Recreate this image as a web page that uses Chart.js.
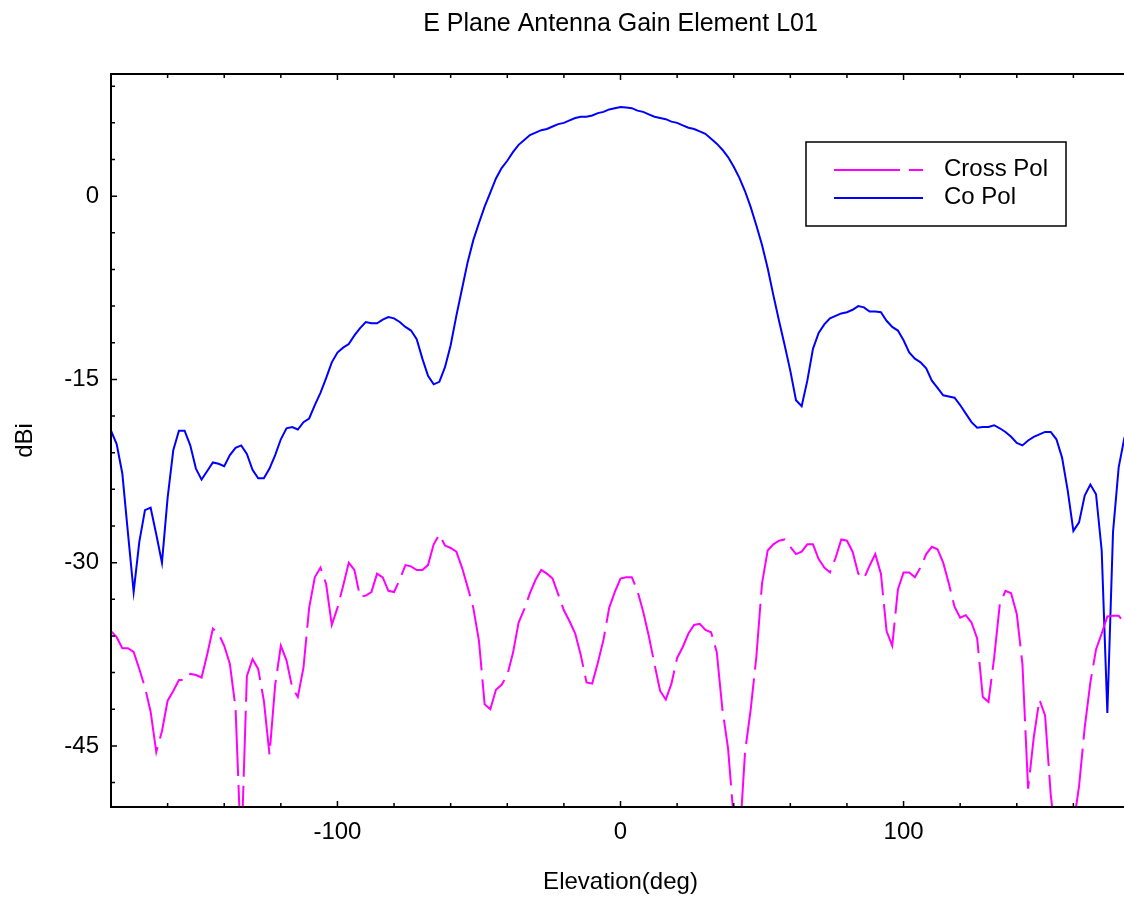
<!DOCTYPE html>
<html>
<head>
<meta charset="utf-8">
<title>E Plane Antenna Gain Element L01</title>
<script src="https://cdn.jsdelivr.net/npm/chart.js@4.4.0/dist/chart.umd.min.js"></script>
<style>
  html, body { margin: 0; padding: 0; background: #fff; overflow: hidden; }
  #wrap { width: 1124px; height: 897px; overflow: hidden; }
  #gain { display: block; }
</style>
</head>
<body>
<div id="wrap"><canvas id="gain" width="1130" height="897"></canvas></div>
<script>
// Elevation cut, sampled every 2 degrees
const ELEVATION = [
  -180, -178, -176, -174, -172, -170, -168, -166, -164, -162,
  -160, -158, -156, -154, -152, -150, -148, -146, -144, -142,
  -140, -138, -136, -134, -132, -130, -128, -126, -124, -122,
  -120, -118, -116, -114, -112, -110, -108, -106, -104, -102,
  -100, -98, -96, -94, -92, -90, -88, -86, -84, -82,
  -80, -78, -76, -74, -72, -70, -68, -66, -64, -62,
  -60, -58, -56, -54, -52, -50, -48, -46, -44, -42,
  -40, -38, -36, -34, -32, -30, -28, -26, -24, -22,
  -20, -18, -16, -14, -12, -10, -8, -6, -4, -2,
  0, 2, 4, 6, 8, 10, 12, 14, 16, 18,
  20, 22, 24, 26, 28, 30, 32, 34, 36, 38,
  40, 42, 44, 46, 48, 50, 52, 54, 56, 58,
  60, 62, 64, 66, 68, 70, 72, 74, 76, 78,
  80, 82, 84, 86, 88, 90, 92, 94, 96, 98,
  100, 102, 104, 106, 108, 110, 112, 114, 116, 118,
  120, 122, 124, 126, 128, 130, 132, 134, 136, 138,
  140, 142, 144, 146, 148, 150, 152, 154, 156, 158,
  160, 162, 164, 166, 168, 170, 172, 174, 176, 178,
  180
];

// Co-polarised gain (dBi)
const CO_POL = [
  -19.2, -20.3, -22.7, -27.6, -32.4, -28.3, -25.7, -25.5, -27.7, -30.0,
  -24.7, -20.8, -19.2, -19.2, -20.4, -22.3, -23.2, -22.5, -21.8, -21.9,
  -22.1, -21.2, -20.6, -20.4, -21.1, -22.4, -23.1, -23.1, -22.3, -21.2,
  -19.9, -19.0, -18.9, -19.1, -18.5, -18.2, -17.1, -16.1, -14.9, -13.6,
  -12.8, -12.4, -12.1, -11.4, -10.8, -10.3, -10.4, -10.4, -10.1, -9.9,
  -10.0, -10.3, -10.7, -11.0, -11.7, -13.3, -14.7, -15.4, -15.2, -14.0,
  -12.2, -9.8, -7.6, -5.4, -3.6, -2.2, -0.85, 0.3, 1.45, 2.3,
  2.9, 3.6, 4.2, 4.6, 5.0, 5.2, 5.4, 5.5, 5.7, 5.9,
  6.0, 6.2, 6.4, 6.5, 6.5, 6.6, 6.8, 6.9, 7.1, 7.2,
  7.3, 7.25, 7.2, 7.0, 6.9, 6.7, 6.5, 6.4, 6.3, 6.1,
  6.0, 5.8, 5.6, 5.5, 5.3, 5.1, 4.7, 4.3, 3.8, 3.2,
  2.4, 1.5, 0.4, -0.9, -2.4, -4.0, -5.9, -8.1, -10.2, -12.2,
  -14.3, -16.7, -17.2, -15.1, -12.5, -11.2, -10.5, -10.0, -9.8, -9.6,
  -9.5, -9.3, -9.0, -9.1, -9.45, -9.45, -9.5, -10.2, -10.7, -11.0,
  -11.8, -12.8, -13.3, -13.6, -14.1, -15.1, -15.7, -16.3, -16.4, -16.5,
  -17.1, -17.8, -18.5, -18.95, -18.9, -18.9, -18.75, -19.0, -19.3, -19.7,
  -20.2, -20.4, -20.0, -19.7, -19.5, -19.3, -19.3, -19.9, -21.4, -24.1,
  -27.4, -26.7, -24.5, -23.6, -24.4, -29.0, -42.3, -27.5, -22.2, -19.8,
  -18.8
];

// Cross-polarised gain (dBi)
const CROSS_POL = [
  -35.6, -36.1, -37.0, -37.0, -37.3, -38.7, -40.2, -42.2, -45.5, -43.8,
  -41.3, -40.5, -39.6, -39.6, -39.1, -39.2, -39.4, -37.5, -35.4, -35.8,
  -36.8, -38.3, -41.9, -54.0, -39.3, -37.9, -38.7, -41.3, -45.7, -40.0,
  -36.8, -38.0, -40.2, -41.0, -38.6, -33.7, -31.2, -30.4, -31.75, -35.1,
  -33.7, -31.9, -30.0, -30.6, -32.8, -32.7, -32.4, -30.9, -31.2, -32.3,
  -32.4, -31.4, -30.2, -30.3, -30.6, -30.6, -30.2, -28.5, -27.7, -28.6,
  -28.8, -29.1, -30.4, -32.0, -33.7, -36.4, -41.6, -42.0, -40.4, -40.0,
  -39.2, -37.4, -34.9, -33.8, -32.5, -31.4, -30.6, -30.9, -31.3, -32.6,
  -33.9, -34.8, -35.8, -37.6, -39.8, -39.9, -38.2, -36.3, -33.7, -32.4,
  -31.3, -31.2, -31.2, -32.3, -34.0, -36.0, -38.3, -40.5, -41.2, -39.9,
  -37.8, -36.9, -35.8, -35.1, -35.0, -35.5, -35.7, -37.3, -42.0, -45.2,
  -51.0, -53.0, -45.5, -42.0, -37.7, -31.7, -29.0, -28.5, -28.2, -28.1,
  -28.7, -29.3, -29.1, -28.5, -28.5, -29.7, -30.4, -30.8, -29.6, -28.1,
  -28.2, -29.1, -30.9, -31.3, -30.25, -29.3, -30.9, -35.6, -36.8, -32.2,
  -30.8, -30.8, -31.2, -30.4, -29.3, -28.7, -28.9, -30.0, -31.7, -33.6,
  -34.5, -34.3, -34.9, -36.2, -41.0, -41.4, -37.8, -33.4, -32.3, -32.5,
  -34.2, -38.3, -48.5, -44.3, -41.2, -42.5, -49.0, -53.0, -55.0, -54.0,
  -51.5, -48.3, -43.5, -39.8, -37.1, -35.8, -34.4, -34.35, -34.35, -34.9,
  -35.3
];

// Axis ticks: marks every 20 deg / 3 dB, numbers only on the major ones
const X_TICKS = [-160, -140, -120, -100, -80, -60, -40, -20, 0, 20, 40, 60, 80, 100, 120, 140, 160];
const X_LABELS = [-100, 0, 100];
const Y_TICKS = [-48, -45, -42, -39, -36, -33, -30, -27, -24, -21, -18, -15, -12, -9, -6, -3, 0, 3, 6, 9];
const Y_LABELS = [-45, -30, -15, 0];

const FONT = "'Liberation Sans', Arial, Helvetica, sans-serif";
Chart.defaults.font.family = FONT;
Chart.defaults.font.size = 24;
Chart.defaults.color = '#000';

const toPoints = values => ELEVATION.map((x, i) => ({ x, y: values[i] }));

// box frame plus inward tick marks
const axesFrame = {
  id: 'axesFrame',
  afterDraw(chart) {
    const { ctx, chartArea: a, scales: { x, y } } = chart;
    ctx.save();
    ctx.strokeStyle = '#000';
    ctx.lineWidth = 2;
    ctx.strokeRect(a.left, a.top, a.right - a.left, a.bottom - a.top);
    ctx.lineWidth = 1.5;
    ctx.beginPath();
    x.ticks.forEach(t => {
      const px = x.getPixelForValue(t.value);
      const len = X_LABELS.includes(t.value) ? 6 : 4;
      ctx.moveTo(px, a.bottom);
      ctx.lineTo(px, a.bottom - len);
      ctx.moveTo(px, a.top);
      ctx.lineTo(px, a.top + len);
    });
    y.ticks.forEach(t => {
      const py = y.getPixelForValue(t.value);
      const len = Y_LABELS.includes(t.value) ? 6 : 4;
      ctx.moveTo(a.left, py);
      ctx.lineTo(a.left + len, py);
    });
    ctx.stroke();
    ctx.restore();
  }
};

// framed legend with line samples
const keyBox = {
  id: 'keyBox',
  afterDraw(chart, args, opts) {
    const { ctx } = chart;
    const { left, top, width, height } = opts;
    ctx.save();
    ctx.fillStyle = '#fff';
    ctx.fillRect(left, top, width, height);
    ctx.strokeStyle = '#000';
    ctx.lineWidth = 1.5;
    ctx.strokeRect(left, top, width, height);
    ctx.font = '24px ' + FONT;
    ctx.textBaseline = 'middle';
    ctx.textAlign = 'left';
    chart.data.datasets.forEach((ds, i) => {
      const ly = top + 28 + i * 28;
      ctx.strokeStyle = ds.borderColor;
      ctx.lineWidth = ds.borderWidth;
      ctx.setLineDash(ds.borderDash || []);
      ctx.beginPath();
      ctx.moveTo(left + 28, ly);
      ctx.lineTo(left + 117, ly);
      ctx.stroke();
      ctx.setLineDash([]);
      ctx.fillStyle = '#000';
      ctx.fillText(ds.label, left + 138, ly - 1);
    });
    ctx.restore();
  }
};

new Chart(document.getElementById('gain'), {
  type: 'line',
  data: {
    datasets: [
      {
        label: 'Cross Pol',
        data: toPoints(CROSS_POL),
        borderColor: '#ff00ff',
        borderWidth: 2,
        borderDash: [66, 9],
        pointRadius: 0,
        tension: 0
      },
      {
        label: 'Co Pol',
        data: toPoints(CO_POL),
        borderColor: '#0000ff',
        borderWidth: 2,
        pointRadius: 0,
        tension: 0
      }
    ]
  },
  options: {
    responsive: false,
    animation: false,
    devicePixelRatio: 1,
    layout: { padding: 0 },
    plugins: {
      legend: { display: false },
      tooltip: { enabled: false },
      title: {
        display: true,
        text: 'E Plane Antenna Gain Element L01',
        fullSize: false,
        color: '#000',
        font: { size: 25, weight: 'normal' },
        padding: { top: 9, bottom: 35 }
      },
      keyBox: { left: 806, top: 142, width: 260, height: 84 }
    },
    scales: {
      x: {
        type: 'linear',
        min: -180,
        max: 180,
        afterBuildTicks: s => { s.ticks = X_TICKS.map(v => ({ value: v })); },
        afterFit: s => { s.height = 90; },
        grid: { display: false, drawTicks: false },
        border: { display: false },
        ticks: {
          autoSkip: false,
          maxRotation: 0,
          padding: 11,
          callback: v => X_LABELS.includes(v) ? String(v) : ''
        },
        title: { display: true, text: 'Elevation(deg)', padding: { top: 0, bottom: 0 } }
      },
      y: {
        type: 'linear',
        min: -50,
        max: 10,
        afterBuildTicks: s => { s.ticks = Y_TICKS.map(v => ({ value: v })); },
        afterFit: s => { s.width = 111; },
        grid: { display: false, drawTicks: false },
        border: { display: false },
        ticks: {
          autoSkip: false,
          padding: 12,
          callback: v => Y_LABELS.includes(v) ? String(v) : ''
        },
        title: { display: true, text: 'dBi', padding: { top: 11, bottom: 0 } }
      }
    }
  },
  plugins: [axesFrame, keyBox]
});
</script>
</body>
</html>
